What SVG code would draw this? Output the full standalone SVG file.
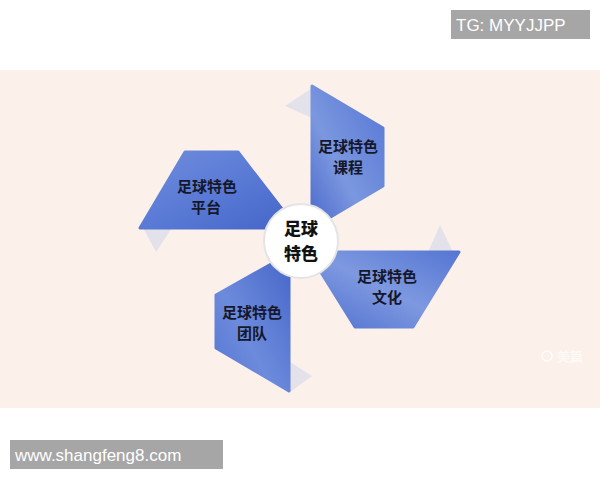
<svg xmlns="http://www.w3.org/2000/svg" width="600" height="480" viewBox="0 0 600 480">
<defs>
<linearGradient id="gA" x1="0" y1="0" x2="1" y2="1">
<stop offset="0" stop-color="#6f8ddc"/>
<stop offset="0.5" stop-color="#5a7ad6"/>
<stop offset="1" stop-color="#4666c8"/>
</linearGradient>
<linearGradient id="gB" x1="1" y1="0" x2="0" y2="1">
<stop offset="0" stop-color="#5676d4"/>
<stop offset="0.6" stop-color="#7b97df"/>
<stop offset="1" stop-color="#4a69cb"/>
</linearGradient>
<linearGradient id="gC" x1="0" y1="1" x2="1" y2="0">
<stop offset="0" stop-color="#4f70cf"/>
<stop offset="0.5" stop-color="#7e99e0"/>
<stop offset="1" stop-color="#5576d3"/>
</linearGradient>
<linearGradient id="gD" x1="1" y1="0" x2="0" y2="1">
<stop offset="0" stop-color="#4666c9"/>
<stop offset="0.6" stop-color="#6d8bdc"/>
<stop offset="1" stop-color="#5474d2"/>
</linearGradient>
</defs>
<style>
.tri{fill:#e3e1ea}
.lbl{font-family:"Noto Sans CJK SC","Noto Sans",sans-serif;font-weight:700;font-size:15px;fill:#15172a;text-anchor:middle}
.ctr{font-family:"Noto Sans CJK SC","Noto Sans",sans-serif;font-weight:900;font-size:17px;fill:#111;text-anchor:middle}
.wm{font-family:"Liberation Sans","Noto Sans CJK SC",sans-serif;font-size:17px;fill:#ffffff}
</style>
<rect x="0" y="0" width="600" height="480" fill="#ffffff"/>
<rect x="0" y="70" width="600" height="338" fill="#fcf1ea"/>
<g id="connectors"/>
<g id="node-platform">
<polygon class="tri" points="143,228 172,228 156,252"/>
<polygon points="185,152 238,152 292,222 292,228 140,228" fill="url(#gA)" stroke="url(#gA)" stroke-width="3" stroke-linejoin="round"/>
<text class="lbl" x="207" y="192"><tspan x="207">足球特色</tspan><tspan x="206" dy="21">平台</tspan></text>
</g>
<g id="node-course">
<polygon class="tri" points="312,88 285,106 312,118"/>
<polygon points="312,86 383,128 383,186 312,228" fill="url(#gB)" stroke="url(#gB)" stroke-width="3" stroke-linejoin="round"/>
<text class="lbl" x="348" y="152"><tspan x="348">足球特色</tspan><tspan x="348" dy="21">课程</tspan></text>
</g>
<g id="node-culture">
<polygon class="tri" points="428,252 440,225 453,252"/>
<polygon points="459,252 413,327 355,327 312,258 312,252" fill="url(#gC)" stroke="url(#gC)" stroke-width="3" stroke-linejoin="round"/>
<text class="lbl" x="387" y="282"><tspan x="387">足球特色</tspan><tspan x="387" dy="21">文化</tspan></text>
</g>
<g id="node-team">
<polygon class="tri" points="290,362 312,376 290,392"/>
<polygon points="289,254 289,391 216,348 216,295" fill="url(#gD)" stroke="url(#gD)" stroke-width="3" stroke-linejoin="round"/>
<text class="lbl" x="252" y="318"><tspan x="252">足球特色</tspan><tspan x="252" dy="21">团队</tspan></text>
</g>
<g id="node-center">
<circle cx="301" cy="241" r="37" fill="#ffffff" stroke="#e4e4e6" stroke-width="2"/>
<text class="ctr" x="301" y="235"><tspan x="301">足球</tspan><tspan x="301" dy="25">特色</tspan></text>
</g>
<g id="watermarks">
<text x="557" y="361" font-family="'Noto Sans CJK SC',sans-serif" font-size="13" fill="#ffffff" fill-opacity="0.8">美篇</text>
<circle cx="547" cy="356" r="5" fill="none" stroke="#ffffff" stroke-opacity="0.8" stroke-width="1.5"/>
<rect x="451" y="10" width="139" height="29" fill="#a6a6a6"/>
<text class="wm" x="456" y="31">TG: MYYJJPP</text>
<rect x="10" y="440" width="213" height="29" fill="#a6a6a6"/>
<text class="wm" x="15" y="461">www.shangfeng8.com</text>
</g>
</svg>
